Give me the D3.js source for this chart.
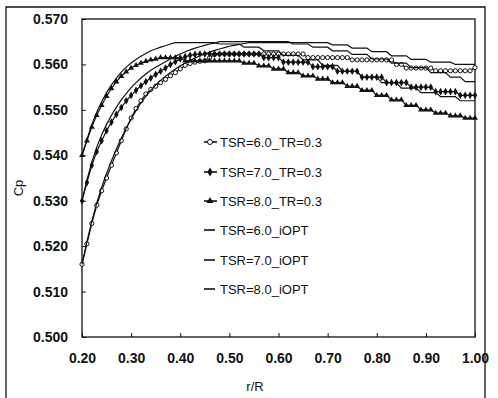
<!DOCTYPE html>
<html>
<head>
<meta charset="utf-8">
<script src="https://cdn.jsdelivr.net/npm/d3@7"></script>
<style>
  body { margin: 0; background: #fff; }
  svg { display: block; font-family: "Liberation Sans", Arial, sans-serif; }
</style>
</head>
<body>
<svg id="chart" width="498" height="398"></svg>
<script>
// r/R stations
const rR = [
  0.20, 0.21, 0.22, 0.23, 0.24, 0.25, 0.26, 0.27, 0.28, 0.29,
  0.30, 0.31, 0.32, 0.33, 0.34, 0.35, 0.36, 0.37, 0.38, 0.39,
  0.40, 0.41, 0.42, 0.43, 0.44, 0.45, 0.46, 0.47, 0.48, 0.49,
  0.50, 0.51, 0.52, 0.53, 0.54, 0.55, 0.56, 0.57, 0.58, 0.59,
  0.60, 0.61, 0.62, 0.63, 0.64, 0.65, 0.66, 0.67, 0.68, 0.69,
  0.70, 0.71, 0.72, 0.73, 0.74, 0.75, 0.76, 0.77, 0.78, 0.79,
  0.80, 0.81, 0.82, 0.83, 0.84, 0.85, 0.86, 0.87, 0.88, 0.89,
  0.90, 0.91, 0.92, 0.93, 0.94, 0.95, 0.96, 0.97, 0.98, 0.99, 1.00
];

const tsr6TR = [
  0.5160, 0.5205, 0.5250, 0.5290, 0.5322, 0.5350, 0.5378, 0.5405, 0.5432, 0.5458,
  0.5482, 0.5503, 0.5520, 0.5535, 0.5545, 0.5552, 0.5560, 0.5567, 0.5575, 0.5582,
  0.5590, 0.5598, 0.5602, 0.5605, 0.5607, 0.5608, 0.5615, 0.5622, 0.5623, 0.5623,
  0.5623, 0.5623, 0.5623, 0.5623, 0.5623, 0.5623, 0.5623, 0.5623, 0.5623, 0.5623,
  0.5623, 0.5623, 0.5623, 0.5623, 0.5623, 0.5623, 0.5615, 0.5615, 0.5615, 0.5615,
  0.5615, 0.5615, 0.5615, 0.5615, 0.5615, 0.5610, 0.5610, 0.5610, 0.5610, 0.5610,
  0.5610, 0.5610, 0.5610, 0.5610, 0.5600, 0.5600, 0.5592, 0.5592, 0.5592, 0.5592,
  0.5592, 0.5592, 0.5586, 0.5586, 0.5586, 0.5586, 0.5586, 0.5586, 0.5586, 0.5586, 0.5593
];

const tsr7TR = [
  0.5300, 0.5340, 0.5378, 0.5408, 0.5432, 0.5454, 0.5473, 0.5490, 0.5505, 0.5520,
  0.5532, 0.5543, 0.5553, 0.5562, 0.5570, 0.5578, 0.5585, 0.5592, 0.5600, 0.5606,
  0.5612, 0.5617, 0.5620, 0.5622, 0.5623, 0.5623, 0.5623, 0.5623, 0.5623, 0.5623,
  0.5623, 0.5623, 0.5623, 0.5623, 0.5623, 0.5623, 0.5623, 0.5615, 0.5615, 0.5615,
  0.5615, 0.5605, 0.5605, 0.5605, 0.5605, 0.5605, 0.5605, 0.5595, 0.5595, 0.5595,
  0.5595, 0.5595, 0.5585, 0.5585, 0.5585, 0.5585, 0.5585, 0.5572, 0.5572, 0.5572,
  0.5572, 0.5572, 0.5560, 0.5560, 0.5560, 0.5560, 0.5560, 0.5550, 0.5550, 0.5550,
  0.5550, 0.5550, 0.5540, 0.5540, 0.5540, 0.5540, 0.5540, 0.5532, 0.5532, 0.5532, 0.5532
];

const tsr8TR = [
  0.5400, 0.5432, 0.5462, 0.5488, 0.5510, 0.5530, 0.5547, 0.5562, 0.5574, 0.5584,
  0.5592, 0.5598, 0.5603, 0.5607, 0.5610, 0.5612, 0.5615, 0.5615, 0.5615, 0.5615,
  0.5615, 0.5608, 0.5608, 0.5608, 0.5608, 0.5608, 0.5608, 0.5608, 0.5608, 0.5608,
  0.5608, 0.5608, 0.5608, 0.5603, 0.5603, 0.5603, 0.5597, 0.5597, 0.5597, 0.5590,
  0.5590, 0.5590, 0.5582, 0.5582, 0.5582, 0.5575, 0.5575, 0.5575, 0.5568, 0.5568,
  0.5568, 0.5560, 0.5560, 0.5560, 0.5552, 0.5552, 0.5552, 0.5543, 0.5543, 0.5543,
  0.5532, 0.5532, 0.5532, 0.5522, 0.5522, 0.5522, 0.5510, 0.5510, 0.5510, 0.5500,
  0.5500, 0.5500, 0.5493, 0.5493, 0.5493, 0.5487, 0.5487, 0.5487, 0.5482, 0.5482, 0.5482
];

const tsr6Opt = [
  0.5160, 0.5210, 0.5255, 0.5295, 0.5330, 0.5360, 0.5388, 0.5414, 0.5438, 0.5460,
  0.5480, 0.5498, 0.5515, 0.5530, 0.5543, 0.5555, 0.5565, 0.5574, 0.5582, 0.5590,
  0.5597, 0.5603, 0.5609, 0.5614, 0.5619, 0.5623, 0.5627, 0.5631, 0.5634, 0.5637,
  0.5640, 0.5642, 0.5644, 0.5646, 0.5648, 0.5648, 0.5648, 0.5648, 0.5648, 0.5648,
  0.5648, 0.5648, 0.5648, 0.5648, 0.5648, 0.5648, 0.5648, 0.5648, 0.5648, 0.5648,
  0.5648, 0.5643, 0.5643, 0.5643, 0.5643, 0.5636, 0.5636, 0.5636, 0.5636, 0.5628,
  0.5628, 0.5628, 0.5628, 0.5619, 0.5619, 0.5619, 0.5619, 0.5611, 0.5611, 0.5611,
  0.5611, 0.5605, 0.5605, 0.5605, 0.5605, 0.5605, 0.5600, 0.5600, 0.5600, 0.5600, 0.5600
];

const tsr7Opt = [
  0.5300, 0.5345, 0.5385, 0.5418, 0.5445, 0.5468, 0.5488, 0.5506, 0.5522, 0.5536,
  0.5549, 0.5560, 0.5570, 0.5579, 0.5587, 0.5594, 0.5600, 0.5606, 0.5612, 0.5618,
  0.5623, 0.5628, 0.5632, 0.5636, 0.5639, 0.5642, 0.5645, 0.5647, 0.5650, 0.5650,
  0.5650, 0.5650, 0.5650, 0.5650, 0.5650, 0.5650, 0.5650, 0.5650, 0.5650, 0.5650,
  0.5650, 0.5650, 0.5650, 0.5645, 0.5645, 0.5645, 0.5645, 0.5638, 0.5638, 0.5638,
  0.5638, 0.5630, 0.5630, 0.5630, 0.5630, 0.5622, 0.5622, 0.5622, 0.5622, 0.5612,
  0.5612, 0.5612, 0.5612, 0.5603, 0.5603, 0.5603, 0.5603, 0.5593, 0.5593, 0.5593,
  0.5593, 0.5582, 0.5582, 0.5582, 0.5582, 0.5572, 0.5572, 0.5572, 0.5562, 0.5562, 0.5562
];

const tsr8Opt = [
  0.5400, 0.5435, 0.5468, 0.5495, 0.5518, 0.5538, 0.5555, 0.5570, 0.5583, 0.5594,
  0.5603, 0.5611, 0.5618, 0.5624, 0.5630, 0.5634, 0.5638, 0.5641, 0.5645, 0.5648,
  0.5648, 0.5648, 0.5648, 0.5648, 0.5648, 0.5648, 0.5648, 0.5648, 0.5645, 0.5645,
  0.5645, 0.5645, 0.5645, 0.5638, 0.5638, 0.5638, 0.5638, 0.5630, 0.5630, 0.5630,
  0.5630, 0.5620, 0.5620, 0.5620, 0.5620, 0.5610, 0.5610, 0.5610, 0.5610, 0.5598,
  0.5598, 0.5598, 0.5598, 0.5585, 0.5585, 0.5585, 0.5585, 0.5572, 0.5572, 0.5572,
  0.5572, 0.5560, 0.5560, 0.5560, 0.5560, 0.5548, 0.5548, 0.5548, 0.5548, 0.5538,
  0.5538, 0.5538, 0.5538, 0.5529, 0.5529, 0.5529, 0.5529, 0.5520, 0.5520, 0.5520, 0.5520
];

const seriesNames = [
  'TSR=6.0_TR=0.3', 'TSR=7.0_TR=0.3', 'TSR=8.0_TR=0.3',
  'TSR=6.0_iOPT', 'TSR=7.0_iOPT', 'TSR=8.0_iOPT'
];
const seriesValues = [tsr6TR, tsr7TR, tsr8TR, tsr6Opt, tsr7Opt, tsr8Opt];
const seriesMarkers = ['circle', 'diamond', 'triangle', null, null, null];

const xTicks = [0.20, 0.30, 0.40, 0.50, 0.60, 0.70, 0.80, 0.90, 1.00];
const yTicks = [0.500, 0.510, 0.520, 0.530, 0.540, 0.550, 0.560, 0.570];

const svg = d3.select('#chart');

const plot = { left: 82, right: 475, top: 19, bottom: 337 };

const x = d3.scaleLinear().domain([0.2, 1.0]).range([plot.left, plot.right]);
const y = d3.scaleLinear().domain([0.5, 0.57]).range([plot.bottom, plot.top]);

// outer frame of the scanned figure
svg.append('path')
  .attr('d', 'M6,400 V7 H485 V400')
  .attr('fill', 'none')
  .attr('stroke', '#111')
  .attr('stroke-width', 1.3);

// axes
svg.append('g')
  .attr('transform', `translate(0,${plot.bottom})`)
  .call(d3.axisBottom(x).tickValues(xTicks).tickSize(-4).tickPadding(16).tickFormat(d3.format('.2f')))
  .call((g) => g.select('.domain').remove())
  .call((g) => g.selectAll('line').attr('stroke', '#111'))
  .call((g) => g.selectAll('text')
    .attr('fill', '#111')
    .style('font-size', '14px')
    .style('font-weight', 'bold'));

svg.append('g')
  .attr('transform', `translate(${plot.left},0)`)
  .call(d3.axisLeft(y).tickValues(yTicks).tickSize(-4).tickPadding(14).tickFormat(d3.format('.3f')))
  .call((g) => g.select('.domain').remove())
  .call((g) => g.selectAll('line').attr('stroke', '#111'))
  .call((g) => g.selectAll('text')
    .attr('fill', '#111')
    .style('font-size', '14px')
    .style('font-weight', 'bold'));

svg.append('rect')
  .attr('x', plot.left)
  .attr('y', plot.top)
  .attr('width', plot.right - plot.left)
  .attr('height', plot.bottom - plot.top)
  .attr('fill', 'none')
  .attr('stroke', '#111')
  .attr('stroke-width', 1.3);

// axis titles
svg.append('text')
  .attr('transform', 'translate(18,188) rotate(-90)')
  .attr('text-anchor', 'middle')
  .attr('dy', '0.35em')
  .style('font-size', '13px')
  .attr('fill', '#111')
  .text('Cp');

svg.append('text')
  .attr('x', 255)
  .attr('y', 386)
  .attr('text-anchor', 'middle')
  .attr('dy', '0.35em')
  .style('font-size', '13px')
  .attr('fill', '#111')
  .text('r/R');

const line = d3.line()
  .x((d) => x(d[0]))
  .y((d) => y(d[1]));

const symbolType = {
  circle: d3.symbolCircle,
  diamond: d3.symbolDiamond,
  triangle: d3.symbolTriangle,
};

function drawMarker(sel, kind, scale = 1) {
  if (kind === 'circle') {
    sel.append('circle')
      .attr('r', 2.1 * scale)
      .attr('fill', '#fff')
      .attr('stroke', '#111')
      .attr('stroke-width', 1);
  } else {
    sel.append('path')
      .attr('d', d3.symbol().type(symbolType[kind]).size((kind === 'diamond' ? 17 : 15) * scale * scale)())
      .attr('fill', '#111');
  }
}

const series = seriesNames.map((name, i) => ({
  name,
  marker: seriesMarkers[i],
  points: rR.map((r, j) => [r, seriesValues[i][j]]),
}));

const plotG = svg.append('g');

series.forEach((s) => {
  plotG.append('path')
    .datum(s.points)
    .attr('fill', 'none')
    .attr('stroke', '#111')
    .attr('stroke-width', 1.2)
    .attr('d', line);

  if (s.marker) {
    plotG.append('g')
      .selectAll('g')
      .data(s.points)
      .join('g')
      .attr('transform', (d) => `translate(${x(d[0])},${y(d[1])})`)
      .each(function () { drawMarker(d3.select(this), s.marker); });
  }
});

// legend
const legendRows = [142, 172, 201, 230, 260, 289];
const legend = svg.append('g');
series.forEach((s, i) => {
  const row = legend.append('g').attr('transform', `translate(0,${legendRows[i]})`);
  row.append('line')
    .attr('x1', 204).attr('x2', s.marker ? 217 : 215)
    .attr('stroke', '#111')
    .attr('stroke-width', 1.6);
  if (s.marker) {
    drawMarker(row.append('g').attr('transform', 'translate(210,0)'), s.marker, 1.2);
  }
  row.append('text')
    .attr('x', 220)
    .attr('dy', '0.35em')
    .style('font-size', '13px')
    .attr('fill', '#111')
    .text(s.name);
});
</script>
</body>
</html>
